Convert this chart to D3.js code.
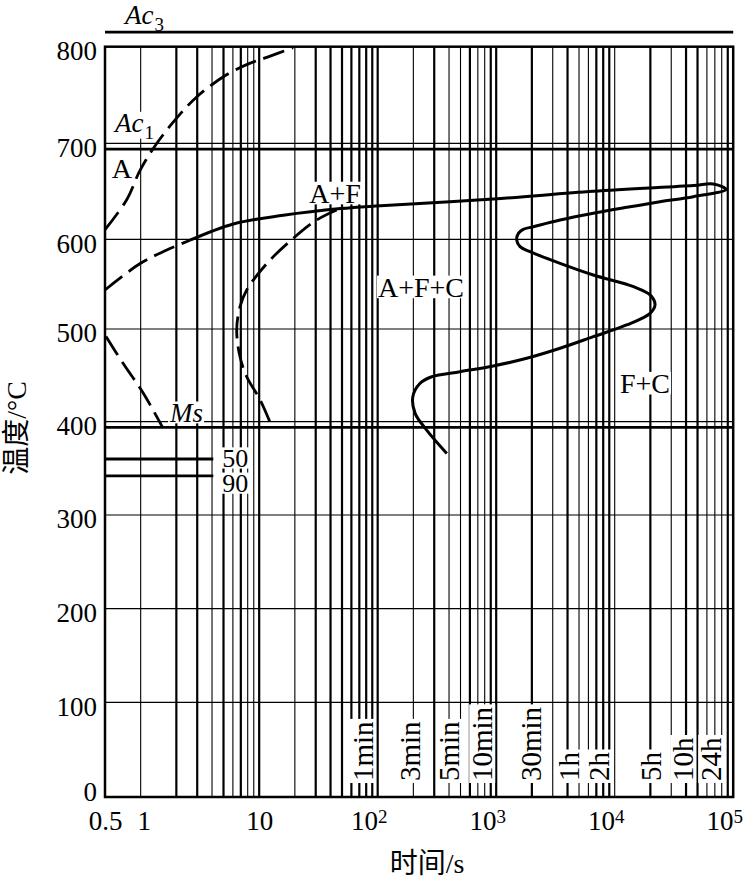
<!DOCTYPE html>
<html><head><meta charset="utf-8">
<script src="https://cdn.jsdelivr.net/npm/d3@7"></script>
<style>
html,body{margin:0;padding:0;background:#fff;}
svg{display:block;}
text{font-family:"Liberation Serif","Times New Roman","Noto Sans CJK SC",serif;fill:#000;}
</style></head><body>
<svg id="chart" width="746" height="880"></svg>
<script>
// ---------------- data ----------------
const tempTicks = [0,100,200,300,400,500,600,700,800];
const timeTicks = [0.5,1,10,100,1000,10000,100000];
const gridHeavy = [2,3,5,7,10,30,40,50,60,70,80,90,100,300,600,900,1000,2000,4000,7000,8000,9000,20000,40000,50000,90000];
const gridLight = [1,4,6,8,9,20,200,400,500,700,800,3000,5000,6000,10000,30000,60000,70000,80000];
const timeMarkLabels = ["1min","3min","5min","10min","30min","1h","2h","5h","10h","24h"];
const timeMarkAt = [75,187,400,760,1970,4120,7380,20300,37700,65000];
const criticalNames = ["Ac","Ac","Ms"];
const criticalSubs = ["3","1",""];
const criticalTemps = [815,694,394];
const criticalLabelTimes = [0.738,0.607,1.77];
const criticalLabelTemps = [823.8,711.7,400];
const pctLabels = ["50","90"];
const pctTemps = [360,342];
const pctLabelTemps = [361.5,334.5];
const pctEndTime = 4.1;
const regionNames = ["A","A+F","A+F+C","F+C"];
const regionTimes = [0.695,43.6,232,18000];
const regionTemps = [664,638,536,431];
// transformation curves: [time s, temperature °C]
const dashStart = [[0.5,610],[0.76,641],[0.99,672],[1.37,700],[2.01,726],[2.97,748],[5.3,771],[8.4,783],[11.6,789],[19.3,799]];
const dashUpper = [[0.5,543.5],[0.99,573],[1.66,588],[2.61,599]];
const solidCurve = [[2.61,599],[6.05,616],[16,625],[48.5,632],[106,635],[946,642],[6600,650],[46100,656],[67900,657.6],[87000,652],
  [46100,644.4],[24100,639.2],[12600,633.3],[6600,627.1],[3460,620.1],[2060,613.1],[1690,610.4],[1540,606.2],[1490,599.2],[1590,591.8],[1930,586.2],
  [3460,573.2],[6600,560.2],[14400,547.2],[19900,538],[21900,527],[19900,517.5],[12600,504.5],[6600,491.7],[3460,479.2],[1810,468.4],[946,460.1],
  [495,453.9],[286,448.5],[228,441.4],[198,426.9],[207,409],[259,391],[383,366]];
const dashBay = [[45.1,630.5],[30.5,620],[19.4,601],[11.6,573],[7.85,543.5],[6.89,525],[6.46,499],[6.89,470],[7.85,448.5],[10.2,423.4],[12.8,394.6]];
const dashLow = [[0.51,492],[0.71,463],[1.05,431],[1.53,394]];

// ---------------- layout ----------------
const svg = d3.select("#chart");
const x = d3.scaleLog().domain([0.5,1e5]).range([105,733.2]);
const y = d3.scaleLinear().domain(tempTicks).range([797,702.3,608.7,515,421.7,329,239.3,143.3,46.7]);
const x0 = x.range()[0], x1 = x.range()[1];
const yTop = y(800), yBot = y(0);
const serif = '"Liberation Serif","Times New Roman",serif';

// vertical grid
const gridG = svg.append("g");
gridG.selectAll("line.gl").data(gridLight).join("line")
  .attr("x1",d=>x(d)).attr("x2",d=>x(d)).attr("y1",yTop).attr("y2",yBot)
  .attr("stroke","#000").attr("stroke-width",1.1);
gridG.selectAll("line.gh").data(gridHeavy).join("line")
  .attr("x1",d=>x(d)).attr("x2",d=>x(d)).attr("y1",yTop).attr("y2",yBot)
  .attr("stroke","#000").attr("stroke-width",2.2);
// horizontal grid
gridG.selectAll("line.hz").data(tempTicks.filter(t=>t>0 && t<800)).join("line")
  .attr("x1",x0).attr("x2",x1).attr("y1",d=>y(d)).attr("y2",d=>y(d))
  .attr("stroke","#000").attr("stroke-width",1.2);

// critical lines
criticalTemps.forEach(t=>{
  svg.append("line").attr("x1",x0).attr("x2",x1).attr("y1",y(t)).attr("y2",y(t))
    .attr("stroke","#000").attr("stroke-width",2.7);
});
// 50% / 90% lines
pctTemps.forEach(t=>{
  svg.append("line").attr("x1",x0).attr("x2",x(pctEndTime)).attr("y1",y(t)).attr("y2",y(t))
    .attr("stroke","#000").attr("stroke-width",2.8);
});

// helper: text with white background
function addBg(g, fs){
  const t = g.select("text");
  const b = t.node().getBBox();
  g.insert("rect","text").attr("x",b.x-1).attr("y",b.y+0.14*fs).attr("width",b.width+2)
    .attr("height",b.height-0.3*fs).attr("fill","#fff");
}

// time mark labels (rotated)
timeMarkLabels.forEach((s,i)=>{
  const g = svg.append("g").attr("transform",`translate(${x(timeMarkAt[i])},${yBot-16}) rotate(-90)`);
  g.append("text").attr("x",0).attr("y",0).attr("dy","0.35em").attr("font-size",29).text(s);
  const b = g.select("text").node().getBBox();
  g.insert("rect","text").attr("x",b.x-2).attr("y",b.y+3).attr("width",b.width+4).attr("height",b.height-6).attr("fill","#fff");
});

// region labels
regionNames.forEach((s,i)=>{
  const g = svg.append("g");
  g.append("text").attr("x",x(regionTimes[i])).attr("y",y(regionTemps[i]))
    .attr("text-anchor","middle").attr("font-size",28).text(s);
  addBg(g,28);
});

// percent labels
pctLabels.forEach((s,i)=>{
  const g = svg.append("g");
  g.append("text").attr("x",x(pctEndTime)+9).attr("y",y(pctLabelTemps[i])).attr("dy","0.35em")
    .attr("font-size",26).text(s);
  addBg(g,26);
});

// critical labels
criticalNames.forEach((s,i)=>{
  const g = svg.append("g");
  const t = g.append("text").attr("x",x(criticalLabelTimes[i])).attr("y",y(criticalLabelTemps[i])).attr("font-size",27);
  t.append("tspan").attr("font-style","italic").text(s);
  if(criticalSubs[i]) t.append("tspan").attr("font-size",19).attr("dy",7).attr("dx",1).text(criticalSubs[i]);
  if(i>0) addBg(g,27);
});

// frame
svg.append("rect").attr("x",x0).attr("y",yTop).attr("width",x1-x0).attr("height",yBot-yTop)
  .attr("fill","none").attr("stroke","#000").attr("stroke-width",2.5);

// curves
const line = d3.line().x(d=>x(d[0])).y(d=>y(d[1])).curve(d3.curveCatmullRom.alpha(0.5));
[dashStart,dashUpper,dashBay,dashLow].forEach(c=>{
  svg.append("path").attr("d",line(c)).attr("fill","none").attr("stroke","#000")
    .attr("stroke-width",2.8).attr("stroke-dasharray","22,8");
});
svg.append("path").attr("d",line(solidCurve)).attr("fill","none").attr("stroke","#000")
  .attr("stroke-width",3).attr("stroke-linejoin","round");

// axes
const yAxis = svg.append("g").attr("transform",`translate(${x0},0)`)
  .call(d3.axisLeft(y).tickValues(tempTicks).tickSize(0).tickPadding(8).tickFormat(d3.format("d")));
yAxis.select(".domain").remove();
yAxis.attr("font-family",null);
yAxis.selectAll("text").attr("font-size",27).attr("dy",d=>d===0?"0.12em":"0.48em")
  .style("font-family",serif);

const xAxis = svg.append("g").attr("transform",`translate(0,${yBot})`)
  .call(d3.axisBottom(x).tickValues(timeTicks).tickSize(0).tickPadding(14).tickFormat(d=>String(d)));
xAxis.select(".domain").remove();
xAxis.attr("font-family",null);
xAxis.selectAll("text").attr("font-size",27)
  .style("font-family",serif)
  .each(function(d){
    const t = d3.select(this);
    if(d>=100){
      const p = Math.round(Math.log10(d));
      t.text("").attr("x",-9);
      t.append("tspan").text("10");
      t.append("tspan").attr("font-size",19).attr("dy","-0.4em").text(p);
    } else if(d===1){ t.attr("x",3); }
  });

// axis titles
svg.append("text").attr("transform",`translate(16,428) rotate(-90)`).attr("text-anchor","middle")
  .attr("dy","0.35em").attr("font-size",28).text("温度/°C");
svg.append("text").attr("x",427).attr("y",873).attr("text-anchor","middle")
  .attr("font-size",28).text("时间/s");
</script>
</body></html>
